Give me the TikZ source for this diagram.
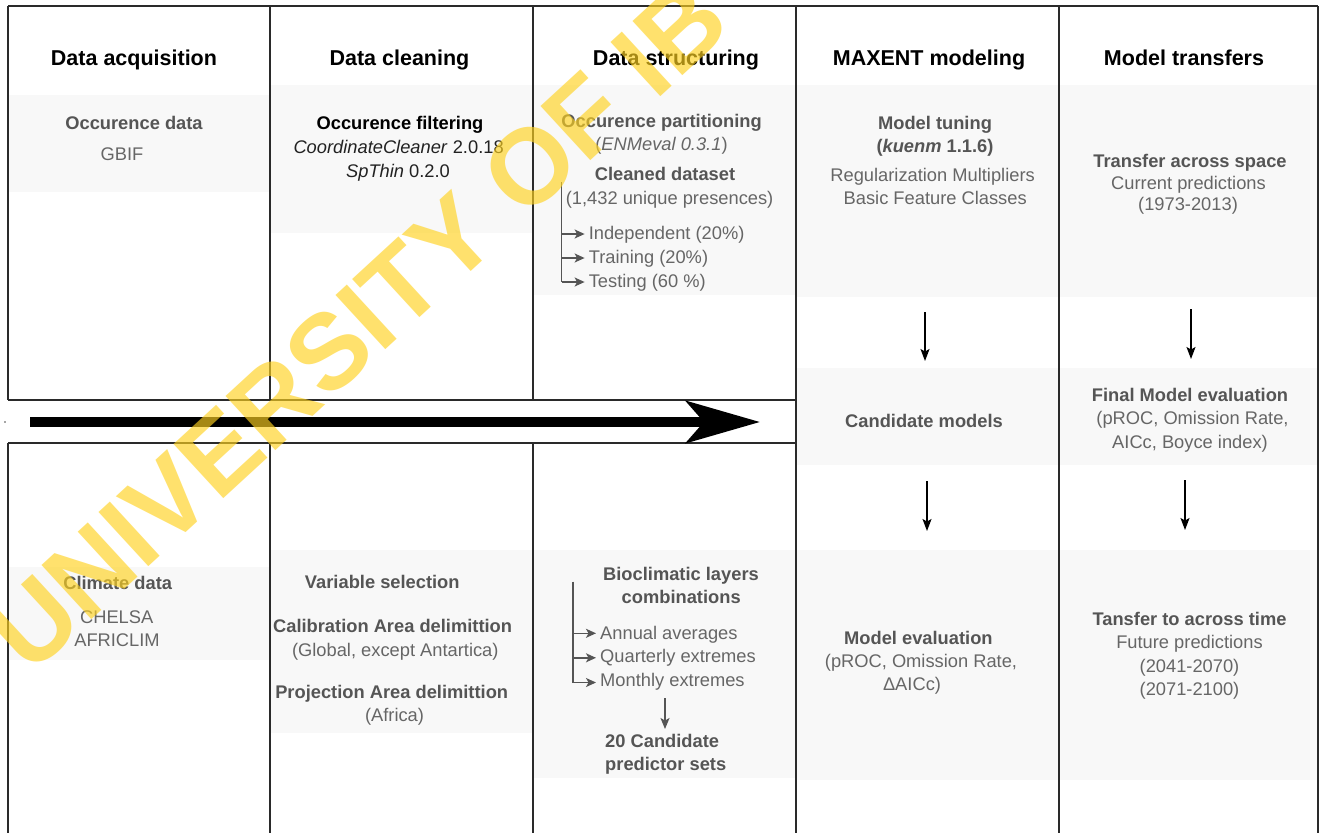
\documentclass[tikz,border=0pt]{standalone}
\usepackage{fontspec}
\setmainfont{Liberation Sans}
\usetikzlibrary{arrows.meta}
\definecolor{frame}{HTML}{2A2A2A}
\definecolor{band}{HTML}{F8F8F8}
\definecolor{subgrey}{HTML}{555555}
\definecolor{bodygrey}{HTML}{666666}
\definecolor{darktext}{HTML}{222222}
\definecolor{wm}{HTML}{FFD21F}
\begin{document}
\begin{tikzpicture}[x=1pt,y=-1pt,
  frameline/.style={draw=frame, line width=1.6pt},
  bandfill/.style={fill=band, draw=none},
  hdr/.style={font=\fontsize{21.5}{26}\selectfont\bfseries, text=black, inner sep=0pt, anchor=base},
  sub/.style={font=\fontsize{18.3}{23}\selectfont\bfseries, text=subgrey, inner sep=0pt, anchor=base},
  body/.style={font=\fontsize{18.3}{23}\selectfont, text=bodygrey, inner sep=0pt, anchor=base},
  leftbody/.style={body, anchor=base west},
  leftsub/.style={sub, anchor=base west},
  branch/.style={draw=subgrey, line width=1.4pt},
  brarrow/.style={branch, -{Stealth[length=10pt,width=9pt,inset=2.5pt]}},
  downarrow/.style={draw=black, line width=1.3pt, -{Stealth[length=12pt,width=9pt,inset=2.5pt]}},
  greydown/.style={draw=subgrey, line width=1.4pt, -{Stealth[length=11pt,width=9pt,inset=2.5pt]}},
  bigarrow/.style={draw=black, line width=10pt, -{Stealth[length=74pt,width=42pt,inset=18pt]}},
  wmark/.style={font=\fontsize{107}{110}\selectfont\bfseries, text=wm, text opacity=0.65, inner sep=0pt, text depth=0pt, anchor=center, rotate=42.6}
]
\useasboundingbox (0,0) rectangle (1322,833);
\fill[white] (0,0) rectangle (1322,833);

% grey bands
\fill[bandfill] (8,95) rectangle (270,192);
\fill[bandfill] (8,567) rectangle (270,660);
\fill[bandfill] (270,85) rectangle (533,233);
\fill[bandfill] (270,550) rectangle (533,733);
\fill[bandfill] (533,85) rectangle (796,295);
\fill[bandfill] (533,550) rectangle (796,778);
\fill[bandfill] (796,85) rectangle (1059,297);
\fill[bandfill] (796,368) rectangle (1059,465);
\fill[bandfill] (796,550) rectangle (1059,780);
\fill[bandfill] (1059,85) rectangle (1318,297);
\fill[bandfill] (1059,368) rectangle (1318,465);
\fill[bandfill] (1059,550) rectangle (1318,780);

% frame
\draw[frameline] (8,6) -- (1318,6);
\draw[frameline] (8,6) -- (8,400) (8,443) -- (8,833);
\draw[frameline] (270,6) -- (270,400) (270,443) -- (270,833);
\draw[frameline] (533,6) -- (533,400) (533,443) -- (533,833);
\draw[frameline] (796,6) -- (796,833);
\draw[frameline] (1059,6) -- (1059,833);
\draw[frameline] (1318,6) -- (1318,833);
\draw[frameline] (8,400) -- (796,400);
\draw[frameline] (8,443) -- (796,443);

% big arrow
\fill[black!70] (5,422) circle (0.9);
\coordinate (bigS) at (30,422);
\coordinate (bigE) at (760,422);
\draw[bigarrow] (bigS) -- (bigE);

% headers
\node[hdr] (h1) at (134,65.7) {Data acquisition};
\node[hdr] (h2) at (399.5,65.7) {Data cleaning};
\node[hdr] (h3) at (676,65.7) {Data structuring};
\node[hdr] (h4) at (929,65.7) {MAXENT modeling};
\node[hdr] (h5) at (1184,65.7) {Model transfers};

% column 1
\node[sub] (occd) at (134,129.5) {Occurence data};
\node[body] (gbif) at (122,160.5) {GBIF};
\node[sub] (clim) at (117.7,589) {Climate data};
\node[body] (chelsa) at (116.7,623) {CHELSA};
\node[body] (africlim) at (117,646.5) {AFRICLIM};

% column 2
\node[sub, text=black] (occf) at (400,129.5) {Occurence filtering};
\node[body, text=darktext] (ccl) at (398.6,153.5) {\textit{CoordinateCleaner} 2.0.18};
\node[body, text=darktext] (spt) at (398,177.5) {\textit{SpThin} 0.2.0};
\node[sub] (vsel) at (382.3,588.5) {Variable selection};
\node[sub] (cal) at (392.6,632.5) {Calibration Area delimittion};
\node[body] (glob) at (395.3,656.5) {(Global, except Antartica)};
\node[sub] (proj) at (391.7,698) {Projection Area delimittion};
\node[body] (afr) at (394.5,721.5) {(Africa)};

% column 3 top
\node[sub] (occp) at (661.6,127.2) {Occurence partitioning};
\node[body] (enm) at (661.5,150.5) {(\textit{ENMeval 0.3.1})};
\node[sub] (clean) at (665,180.5) {Cleaned dataset};
\node[body] (uniq) at (669.6,204.2) {(1,432 unique presences)};
\node[leftbody] (indep) at (588.6,239.5) {Independent (20\%)};
\node[leftbody] (train) at (588.6,263.5) {Training (20\%)};
\node[leftbody] (test) at (588.6,287) {Testing (60 \%)};
\coordinate (brA0) at (561.7,182);
\coordinate (brA1) at (561.7,234);
\coordinate (brA2) at (561.7,258);
\coordinate (brA3) at (561.7,282);
\draw[branch] (brA0) -- (brA3);
\draw[brarrow] (brA1) -- ([xshift=-4pt]indep.west |- brA1);
\draw[brarrow] (brA2) -- ([xshift=-4pt]train.west |- brA2);
\draw[brarrow] (brA3) -- ([xshift=-4pt]test.west |- brA3);

% column 3 bottom
\node[sub] (bio) at (681,580.5) {Bioclimatic layers};
\node[sub] (comb) at (681.2,603.2) {combinations};
\node[leftbody] (ann) at (600,639.5) {Annual averages};
\node[leftbody] (qua) at (600,662.5) {Quarterly extremes};
\node[leftbody] (mon) at (600,686.5) {Monthly extremes};
\coordinate (brB0) at (573,581.7);
\coordinate (brB1) at (573,633.3);
\coordinate (brB2) at (573,657.8);
\coordinate (brB3) at (573,682.5);
\draw[branch] (brB0) -- (brB3);
\draw[brarrow] (brB1) -- ([xshift=-4pt]ann.west |- brB1);
\draw[brarrow] (brB2) -- ([xshift=-4pt]qua.west |- brB2);
\draw[brarrow] (brB3) -- ([xshift=-4pt]mon.west |- brB3);
\node[leftsub] (cand20) at (605,747.5) {20 Candidate};
\node[leftsub] (predset) at (605,770.5) {predictor sets};
\coordinate (gdS) at (665,698);
\coordinate (gdE) at (665,729);
\draw[greydown] (gdS) -- (gdE);

% column 4
\node[sub] (tune) at (935,129.2) {Model tuning};
\node[sub] (kuenm) at (935,152.2) {(\textit{kuenm} 1.1.6)};
\node[body] (reg) at (932.6,181.5) {Regularization Multipliers};
\node[body] (bfc) at (935.2,204.5) {Basic Feature Classes};
\node[sub] (candm) at (924,427.5) {Candidate models};
\node[sub] (meval) at (918.4,644.8) {Model evaluation};
\node[body] (mev2) at (921,667.5) {(pROC, Omission Rate,};
\node[body] (mev3) at (912,690.8) {ΔAICc)};
\coordinate (d4aS) at (925,312);
\coordinate (d4aE) at (925,361);
\coordinate (d4bS) at (927,481);
\coordinate (d4bE) at (927,531);
\draw[downarrow] (d4aS) -- (d4aE);
\draw[downarrow] (d4bS) -- (d4bE);

% column 5
\node[sub] (tspace) at (1190,167.2) {Transfer across space};
\node[body] (curp) at (1188.5,189.2) {Current predictions};
\node[body] (y73) at (1188,210) {(1973-2013)};
\node[sub] (fme) at (1190,401) {Final Model evaluation};
\node[body] (fme2) at (1192.5,424) {(pROC, Omission Rate,};
\node[body] (fme3) at (1190,448) {AICc, Boyce index)};
\node[sub] (ttime) at (1189.5,625) {Tansfer to across time};
\node[body] (futp) at (1189.5,648) {Future predictions};
\node[body] (y41) at (1189.5,672) {(2041-2070)};
\node[body] (y71) at (1189.5,695.5) {(2071-2100)};
\coordinate (d5aS) at (1191,309);
\coordinate (d5aE) at (1191,359);
\coordinate (d5bS) at (1185,480);
\coordinate (d5bE) at (1185,530);
\draw[downarrow] (d5aS) -- (d5aE);
\draw[downarrow] (d5bS) -- (d5bE);

% watermark
\node[wmark] (wm) at (357,325) {UNIVERSITY OF IB};
\end{tikzpicture}
\end{document}
